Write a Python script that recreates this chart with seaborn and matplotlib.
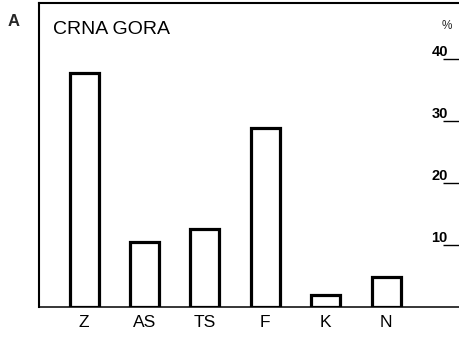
import matplotlib
matplotlib.use("Agg")
import matplotlib.pyplot as plt
import seaborn as sns
import pandas as pd

categories = ["Z", "AS", "TS", "F", "K", "N"]
values = [37.7, 10.5, 12.6, 28.9, 1.9, 4.8]
yticks = [10, 20, 30, 40]
title_text = "CRNA GORA"
panel_label = "A"
unit_label = "%"

sns.set_theme(style="white")
plt.rcParams['font.family'] = ['Liberation Sans', 'DejaVu Sans']

df = pd.DataFrame({"cat": categories, "val": values})

W, H = 460, 338
fig = plt.figure(figsize=(W / 100, H / 100), dpi=100)
ax = fig.add_axes([39 / W, 31 / H, (W - 39) / W, (307 - 3.3) / H])

sns.barplot(data=df, x="cat", y="val", ax=ax, color="white",
            edgecolor="black", linewidth=2.3, width=0.48, saturation=1)

ax.set_xlim(-0.745, 6.22)
ax.set_ylim(0, 49)
ax.set_xlabel("")
ax.set_ylabel("")

for side in ["left", "top", "bottom"]:
    ax.spines[side].set_visible(True)
    ax.spines[side].set_color("black")
ax.spines["left"].set_linewidth(1.5)
ax.spines["top"].set_linewidth(1.5)
ax.spines["bottom"].set_linewidth(1.1)
ax.spines["right"].set_visible(False)

ax.tick_params(axis="x", length=0, pad=6, labelsize=12.5, colors="black")
ax.yaxis.tick_right()
ax.set_yticks(yticks)
ax.set_yticklabels([str(v) for v in yticks])
ax.tick_params(axis="y", which="major", direction="in", length=12.2, width=1.0,
               pad=-20.5, labelsize=10.5, colors="black", right=True, left=False)
for lab in ax.get_yticklabels():
    lab.set_va("bottom")
    lab.set_fontweight("bold")

ax.text(14 / (W - 39), 0.915, title_text, transform=ax.transAxes,
        fontsize=14, ha="left", va="center", color="black")
fig.text(14 / W, 1 - 21 / H, panel_label, fontsize=12, fontweight="bold",
         ha="center", va="center")
fig.text(447 / W, 1 - 26 / H, unit_label, fontsize=8.5, ha="center", va="center")

fig.savefig("out.png", dpi=100)
